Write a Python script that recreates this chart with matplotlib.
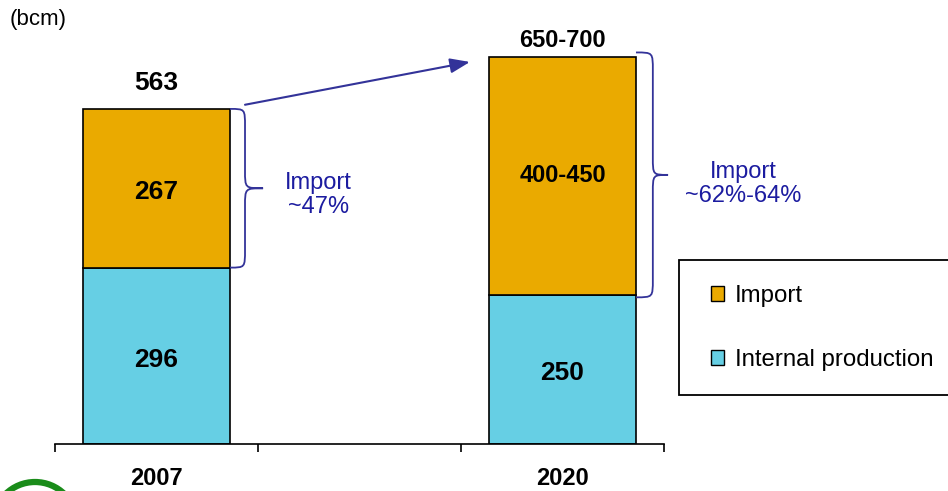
import matplotlib
matplotlib.use("Agg")
import matplotlib.pyplot as plt
from matplotlib.patches import Patch, Rectangle, Circle, PathPatch
from matplotlib.path import Path

plt.rcParams['font.family'] = ['Liberation Sans', 'DejaVu Sans']

years = ['2007', '', '2020']
internal = [296, 0, 250]
imports = [267, 0, 400]
internal_labels = ['296', '', '250']
import_labels = ['267', '', '400-450']
total_labels = ['563', '', '650-700']
share_labels = ['Import\n~47%', '', 'Import\n~62%-64%']

orange = '#EAAA00'
cyan = '#66CFE4'
navy = '#333399'
textblue = '#1C1CA0'

fig = plt.figure(figsize=(9.48, 4.91), dpi=100)
ax = fig.add_axes([55 / 948, 47.5 / 491, 609 / 948, 416 / 491])

x = [0, 1, 2]
shown = [i for i in x if years[i]]
w = 0.724
ax.bar(shown, [internal[i] for i in shown], w, color=cyan, edgecolor='black', linewidth=1.2)
ax.bar(shown, [imports[i] for i in shown], w, bottom=[internal[i] for i in shown],
       color=orange, edgecolor='black', linewidth=1.2)

ax.set_xlim(-0.5, 2.5)
ax.set_ylim(0, 700)
for s in ['top', 'right', 'left']:
    ax.spines[s].set_visible(False)
ax.spines['bottom'].set_linewidth(1.2)
ax.set_yticks([])
ax.set_xticks([-0.5, 0.5, 1.5, 2.5])
ax.set_xticklabels([])
ax.tick_params(axis='x', which='major', direction='out', length=6, width=1.2)
ax.set_xticks(x, minor=True)
ax.set_xticklabels(years, minor=True, fontsize=17, fontweight='bold')
ax.tick_params(axis='x', which='minor', length=0, pad=17)

# segment labels
offsets = [19, 0, 12]
for i in shown:
    ax.annotate(internal_labels[i], (i, internal[i] / 2), xytext=(0, -3),
                textcoords='offset points', ha='center', va='center',
                fontsize=19, fontweight='bold')
    ax.annotate(import_labels[i], (i, internal[i] + imports[i] / 2 + (0 if i == 0 else 8)),
                xytext=(0, -3), textcoords='offset points', ha='center', va='center',
                fontsize=19 if i == 0 else 17, fontweight='bold')
    ax.annotate(total_labels[i], (i, internal[i] + imports[i]), xytext=(0, offsets[i]),
                textcoords='offset points', ha='center', va='center',
                fontsize=19 if i == 0 else 17, fontweight='bold')


def brace(x0, xv, xt, y0, y1, r):
    ym = (y0 + y1) / 2
    verts = [(x0, y1), (xv, y1), (xv, y1), (xv, y1 - r),
             (xv, ym + r),
             (xv, ym), (xv, ym), (xt, ym),
             (xv, ym), (xv, ym), (xv, ym - r),
             (xv, y0 + r),
             (xv, y0), (xv, y0), (x0, y0)]
    codes = [Path.MOVETO, Path.CURVE4, Path.CURVE4, Path.CURVE4,
             Path.LINETO,
             Path.CURVE4, Path.CURVE4, Path.CURVE4,
             Path.CURVE4, Path.CURVE4, Path.CURVE4,
             Path.LINETO,
             Path.CURVE4, Path.CURVE4, Path.CURVE4]
    ax.add_patch(PathPatch(Path(verts, codes), facecolor='none', edgecolor=navy,
                           linewidth=1.3, clip_on=False))


brace(0.362, 0.436, 0.525, internal[0], internal[0] + imports[0], 30)
brace(2.362, 2.445, 2.52, internal[2] - 4, internal[2] + imports[2] + 8, 30)

ax.text(0.796, 418, share_labels[0], ha='center', va='center', fontsize=17,
        color=textblue, linespacing=1.15)
ax.text(2.889, 437, share_labels[2], ha='center', va='center', fontsize=17,
        color=textblue, linespacing=1.15)

ax.annotate('', xy=(1.544, 642), xytext=(0.436, 570),
            arrowprops=dict(arrowstyle='-|>,head_length=1.2,head_width=0.45',
                            color=navy, lw=1.5, shrinkA=0, shrinkB=0))

# legend box (runs off the right edge)
fig.patches.append(Rectangle((679 / 948, 96 / 491), 300 / 948, 135 / 491,
                             transform=fig.transFigure, facecolor='white',
                             edgecolor='black', linewidth=1.3))
handles = [Patch(facecolor=orange, edgecolor='black', linewidth=1),
           Patch(facecolor=cyan, edgecolor='black', linewidth=1)]
fig.legend(handles, ['Import', 'Internal production'], loc='upper left',
           bbox_to_anchor=(711 / 948, 1 - 285 / 491), frameon=False,
           fontsize=17.3, handlelength=0.55, handleheight=0.55, handletextpad=0.45,
           labelspacing=1.75, borderpad=0, borderaxespad=0)

fig.text(10 / 948, 1 - 20 / 491, '(bcm)', fontsize=16, va='center', ha='left')

fig.patches.append(Circle((0.35, -0.33), 0.42, transform=fig.dpi_scale_trans,
                          facecolor='none', edgecolor='#1A8C1A', linewidth=4.5))

fig.savefig('out.png', dpi=100)
